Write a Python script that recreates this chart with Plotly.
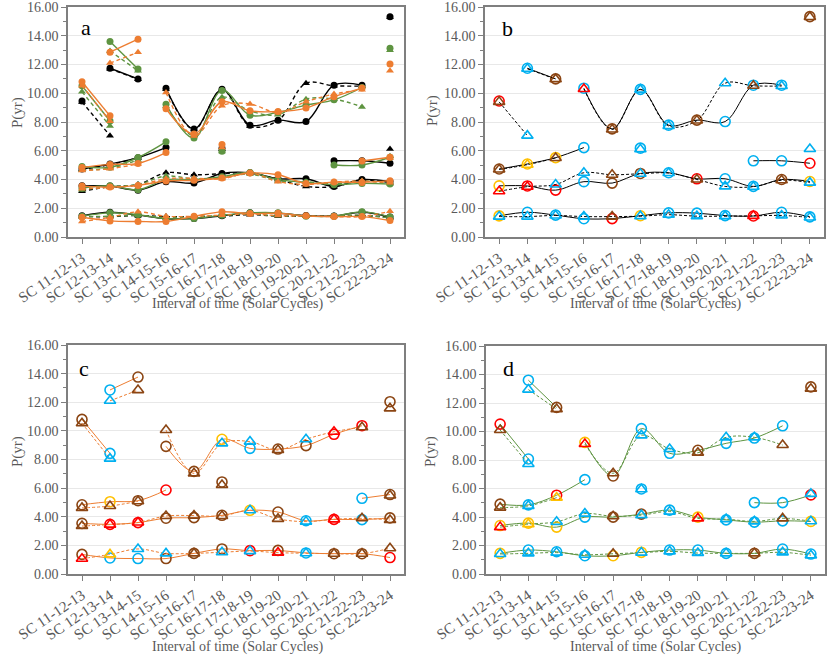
import plotly.graph_objects as go

N = None
CATS = ["SC 11-12-13", "SC 12-13-14", "SC 13-14-15", "SC 14-15-16", "SC 15-16-17", "SC 16-17-18",
        "SC 17-18-19", "SC 18-19-20", "SC 19-20-21", "SC 20-21-22", "SC 21-22-23", "SC 22-23-24"]
Y_TICKS = [0, 2, 4, 6, 8, 10, 12, 14, 16]

# colour codes: c = cyan, r = red, y = yellow, b = brown
# ---------------- black data set (panel b) ----------------
blk_c1 = [1.47, 1.72, 1.52, 1.27, 1.28, 1.48, 1.68, 1.66, 1.49, 1.46, 1.72, 1.40]
blk_c1_col = ["y", "c", "c", "c", "r", "y", "c", "c", "c", "r", "c", "c"]
blk_t1 = [1.42, 1.42, 1.50, 1.42, 1.42, 1.45, 1.55, 1.45, 1.45, 1.47, 1.50, 1.36]
blk_t1_col = ["c", "c", "c", "c", "b", "c", "c", "c", "c", "r", "c", "c"]
blk_c2 = [3.56, 3.55, 3.26, 3.85, 3.75, 4.42, 4.47, 4.05, 4.05, 3.52, 4.00, 3.86]
blk_c2_col = ["y", "r", "r", "c", "b", "b", "c", "r", "c", "c", "b", "y"]
blk_t2 = [3.18, 3.50, 3.65, 4.47, 4.33, 4.40, 4.45, 4.00, 3.52, 3.50, 3.95, 3.78]
blk_t2_col = ["r", "r", "c", "c", "b", "c", "c", "b", "c", "c", "b", "c"]
blk_c3 = [4.73, 5.08, 5.52, 6.22, N, 6.18, N, N, N, 5.30, 5.30, 5.13]
blk_c3_col = ["b", "y", "y", "c", N, "c", N, N, N, "c", "c", "r"]
blk_t3 = [4.70, 5.03, 5.50, N, N, 6.10, N, N, N, N, N, 6.12]
blk_t3_col = ["b", "y", "b", N, N, "c", N, N, N, N, N, "c"]
blk_c4 = [9.46, N, N, 10.35, 7.52, 10.27, 7.78, 8.13, 8.03, 10.56, 10.56, N]
blk_c4_col = ["r", N, N, "c", "b", "c", "c", "b", "c", "c", "c", N]
blk_t4 = [9.40, 7.05, N, 10.30, 7.48, 10.25, 7.72, 8.10, 10.70, 10.52, 10.50, N]
blk_t4_col = ["b", "c", N, "r", "b", "c", "c", "b", "c", "b", "c", N]
blk_c5 = [N, 11.74, 11.00, N, N, N, N, N, N, N, N, 15.33]
blk_c5_col = [N, "c", "b", N, N, N, N, N, N, N, N, "b"]
blk_t5 = [N, 11.70, 10.98, N, N, N, N, N, N, N, N, 15.30]
blk_t5_col = [N, "c", "b", N, N, N, N, N, N, N, N, "b"]

# ---------------- orange data set (panel c) ----------------
org_c1 = [1.37, 1.12, 1.08, 1.08, 1.44, 1.75, 1.63, 1.65, 1.47, 1.42, 1.42, 1.15]
org_c1_col = ["b", "c", "c", "b", "b", "b", "r", "b", "c", "b", "b", "r"]
org_t1 = [1.07, 1.37, 1.75, 1.44, 1.44, 1.52, 1.60, 1.49, 1.45, 1.42, 1.42, 1.80]
org_t1_col = ["r", "y", "c", "c", "b", "c", "c", "r", "c", "b", "b", "b"]
org_c2 = [3.54, 3.47, 3.59, 3.90, 3.94, 4.10, 4.45, 4.33, 3.72, 3.82, 3.80, 3.92]
org_c2_col = ["b", "r", "r", "b", "b", "b", "y", "b", "c", "r", "c", "b"]
org_t2 = [3.35, 3.45, 3.60, 4.05, 4.08, 4.05, 4.45, 3.85, 3.66, 3.82, 3.89, 3.77]
org_t2_col = ["b", "r", "r", "b", "b", "b", "c", "b", "c", "r", "b", "b"]
org_c3 = [4.84, 5.05, 5.12, 5.87, N, 6.43, N, N, N, N, 5.29, 5.55]
org_c3_col = ["b", "y", "b", "r", N, "b", N, N, N, N, "c", "b"]
org_t3 = [4.62, 4.75, 5.08, N, N, 6.22, N, N, N, N, N, 5.48]
org_t3_col = ["b", "b", "b", N, N, "b", N, N, N, N, N, "b"]
org_c4 = [10.80, 8.43, N, 8.92, 7.17, 9.41, 8.78, 8.73, 8.97, 9.76, 10.36, N]
org_c4_col = ["b", "c", N, "b", "b", "y", "c", "b", "b", "r", "r", N]
org_t4 = [10.53, 8.06, N, 10.06, 7.03, 9.13, 9.25, 8.66, 9.41, 9.94, 10.25, N]
org_t4_col = ["b", "c", N, "b", "b", "c", "c", "b", "c", "r", "b", N]
org_c5 = [N, 12.86, 13.76, N, N, N, N, N, N, N, N, 12.04]
org_c5_col = [N, "c", "b", N, N, N, N, N, N, N, N, "b"]
org_t5 = [N, 12.10, 12.85, N, N, N, N, N, N, N, N, 11.57]
org_t5_col = [N, "c", "b", N, N, N, N, N, N, N, N, "b"]

# ---------------- green data set (panel d) ----------------
grn_c1 = [1.45, 1.68, 1.56, 1.28, 1.28, 1.52, 1.68, 1.68, 1.45, 1.45, 1.75, 1.40]
grn_c1_col = ["y", "c", "c", "c", "y", "y", "c", "c", "c", "b", "c", "c"]
grn_t1 = [1.40, 1.45, 1.50, 1.35, 1.42, 1.50, 1.59, 1.47, 1.45, 1.45, 1.52, 1.31]
grn_t1_col = ["c", "c", "c", "c", "b", "c", "c", "c", "c", "b", "c", "c"]
grn_c2 = [3.40, 3.57, 3.29, 3.99, 3.99, 4.20, 4.48, 3.99, 3.80, 3.64, 3.73, 3.69]
grn_c2_col = ["y", "y", "y", "c", "b", "b", "c", "y", "c", "c", "c", "y"]
grn_t2 = [3.29, 3.50, 3.66, 4.24, 4.05, 4.13, 4.38, 3.90, 3.85, 3.69, 3.90, 3.70]
grn_t2_col = ["r", "y", "c", "c", "b", "c", "c", "r", "c", "c", "b", "c"]
grn_c3 = [4.90, 4.85, 5.53, 6.62, N, 5.97, N, N, N, 5.01, 5.01, 5.55]
grn_c3_col = ["b", "c", "r", "c", N, "c", N, N, N, "c", "c", "r"]
grn_t3 = [4.66, 4.78, 5.36, N, N, 5.95, N, N, N, N, N, 5.62]
grn_t3_col = ["b", "c", "y", N, N, "c", N, N, N, N, N, "c"]
grn_c4 = [10.52, 8.07, N, 9.24, 6.88, 10.20, 8.47, 8.68, 9.17, 9.54, 10.40, N]
grn_c4_col = ["r", "c", N, "y", "b", "c", "c", "b", "c", "c", "c", N]
grn_t4 = [10.10, 7.72, N, 9.12, 7.07, 9.73, 8.77, 8.51, 9.59, 9.59, 9.05, N]
grn_t4_col = ["b", "c", N, "r", "b", "c", "c", "b", "c", "c", "b", N]
grn_c5 = [N, 13.60, 11.69, N, N, N, N, N, N, N, N, 13.13]
grn_c5_col = [N, "c", "b", N, N, N, N, N, N, N, N, "b"]
grn_t5 = [N, 12.94, 11.57, N, N, N, N, N, N, N, N, 13.00]
grn_t5_col = [N, "c", "b", N, N, N, N, N, N, N, N, "b"]

CODE = {"c": "#00B0F0", "r": "#FF0000", "y": "#FFC000", "b": "#8B4513", None: "rgba(0,0,0,0)"}
DS_COLOR = {"blk": "#000000", "org": "#ED7D31", "grn": "#5E9441"}

DATA = {
    "blk": ([(blk_c1, blk_c1_col), (blk_c2, blk_c2_col), (blk_c3, blk_c3_col), (blk_c4, blk_c4_col), (blk_c5, blk_c5_col)],
            [(blk_t1, blk_t1_col), (blk_t2, blk_t2_col), (blk_t3, blk_t3_col), (blk_t4, blk_t4_col), (blk_t5, blk_t5_col)]),
    "org": ([(org_c1, org_c1_col), (org_c2, org_c2_col), (org_c3, org_c3_col), (org_c4, org_c4_col), (org_c5, org_c5_col)],
            [(org_t1, org_t1_col), (org_t2, org_t2_col), (org_t3, org_t3_col), (org_t4, org_t4_col), (org_t5, org_t5_col)]),
    "grn": ([(grn_c1, grn_c1_col), (grn_c2, grn_c2_col), (grn_c3, grn_c3_col), (grn_c4, grn_c4_col), (grn_c5, grn_c5_col)],
            [(grn_t1, grn_t1_col), (grn_t2, grn_t2_col), (grn_t3, grn_t3_col), (grn_t4, grn_t4_col), (grn_t5, grn_t5_col)]),
}

FONT = "Liberation Serif"
GRAY = "#595959"
fig = go.Figure()

# panel a: all three data sets with filled markers
for ds in ["blk", "grn", "org"]:
    circ, tri = DATA[ds]
    col = DS_COLOR[ds]
    for vals, _ in tri:
        fig.add_trace(go.Scatter(x=CATS, y=vals, mode="lines+markers", xaxis="x", yaxis="y",
                                 line=dict(color=col, width=1.4, dash="4px,3px", shape="spline"),
                                 marker=dict(symbol="triangle-up", size=7, color=col),
                                 connectgaps=False, showlegend=False))
    for vals, _ in circ:
        fig.add_trace(go.Scatter(x=CATS, y=vals, mode="lines+markers", xaxis="x", yaxis="y",
                                 line=dict(color=col, width=1.4, shape="spline"),
                                 marker=dict(symbol="circle", size=7, color=col),
                                 connectgaps=False, showlegend=False))

# panels b, c, d: one data set each, hollow coloured markers
for ds, ax in [("blk", "2"), ("org", "3"), ("grn", "4")]:
    circ, tri = DATA[ds]
    col = DS_COLOR[ds]
    for vals, cols in circ:
        fig.add_trace(go.Scatter(x=CATS, y=vals, mode="lines+markers", xaxis="x" + ax, yaxis="y" + ax,
                                 line=dict(color=col, width=1, shape="spline"),
                                 marker=dict(symbol="circle-open", size=10, color=[CODE[k] for k in cols],
                                             line=dict(width=1.6)),
                                 connectgaps=False, showlegend=False))
    for vals, cols in tri:
        fig.add_trace(go.Scatter(x=CATS, y=vals, mode="lines+markers", xaxis="x" + ax, yaxis="y" + ax,
                                 line=dict(color=col, width=1, dash="3px,2px", shape="spline"),
                                 marker=dict(symbol="triangle-up-open", size=10, color=[CODE[k] for k in cols],
                                             line=dict(width=1.6)),
                                 connectgaps=False, showlegend=False))

W, H = 831, 668
def px(x0, x1):
    return [x0 / W, x1 / W]
def py(top, bottom):
    return [1 - bottom / H, 1 - top / H]

doms = {
    "": (px(68, 404), py(7, 237)),
    "2": (px(485, 824), py(7, 237)),
    "3": (px(68, 404), py(345, 574)),
    "4": (px(486, 825), py(346, 574)),
}
layout = dict(width=W, height=H, margin=dict(l=0, r=0, t=0, b=0),
              paper_bgcolor="white", plot_bgcolor="white", font=dict(family=FONT, color=GRAY))
for k, (dx, dy) in doms.items():
    layout["xaxis" + k] = dict(domain=dx, anchor="y" + k, type="category", range=[-0.5, 11.5],
                               tickangle=-34, ticks="outside", ticklen=5, tickcolor="#7F7F7F",
                               showgrid=False, showline=True, mirror=True, linecolor="#7F7F7F", linewidth=1.5,
                               tickfont=dict(family=FONT, size=15, color=GRAY), automargin=False,
                               categoryorder="array", categoryarray=CATS, ticklabeloverflow="allow")
    layout["yaxis" + k] = dict(domain=dy, anchor="x" + k, range=[0, 16], tickvals=Y_TICKS,
                               tickformat=".2f", ticks="outside", ticklen=5, tickcolor="#7F7F7F",
                               minor=dict(dtick=1, ticks="outside", ticklen=3, tickcolor="#7F7F7F", showgrid=False),
                               showgrid=True, gridcolor="#E8E8E8", gridwidth=1, zeroline=False,
                               showline=True, mirror=True, linecolor="#7F7F7F", linewidth=1.5,
                               tickfont=dict(family=FONT, size=14, color=GRAY), automargin=False,
                               ticklabeloverflow="allow")
fig.update_layout(**layout)

ann = []
for lbl, x, y in [("a", 86, 27), ("b", 507, 29), ("c", 84, 368), ("d", 508, 368)]:
    ann.append(dict(text=lbl, x=x / W, y=1 - y / H, xref="paper", yref="paper", showarrow=False,
                    xanchor="center", yanchor="middle",
                    font=dict(family=FONT, size=22, color="black")))
for x, y in [(18, 113), (432, 110), (17, 452), (430, 452)]:
    ann.append(dict(text="P(yr)", x=x / W, y=1 - y / H, xref="paper", yref="paper", showarrow=False,
                    xanchor="center", yanchor="middle",
                    textangle=-90, font=dict(family=FONT, size=15, color=GRAY)))
for x, y in [(237, 304), (655, 304), (237, 647), (655, 647)]:
    ann.append(dict(text="Interval of time (Solar Cycles)", x=x / W, y=1 - y / H, xref="paper", yref="paper",
                    showarrow=False, xanchor="center", yanchor="middle",
                    font=dict(family=FONT, size=14, color=GRAY)))
fig.update_layout(annotations=ann)

fig.write_html("out.html", config={"displayModeBar": False},
               post_script="document.body.style.margin='0px';document.body.style.padding='0px';")
